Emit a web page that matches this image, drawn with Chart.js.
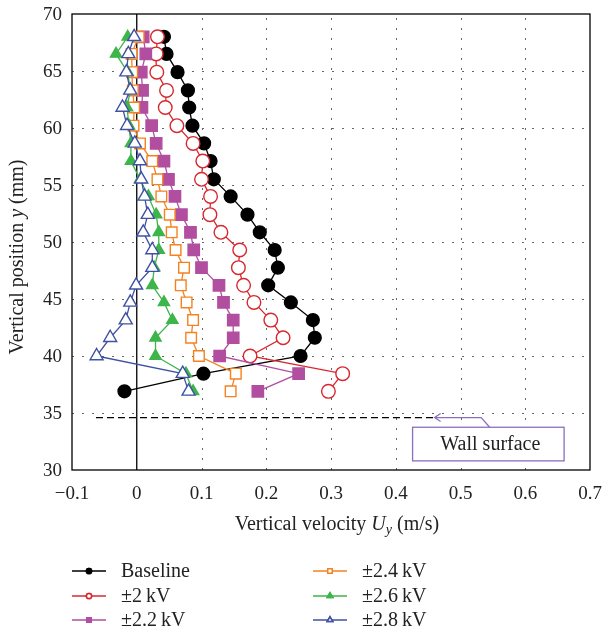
<!DOCTYPE html>
<html>
<head>
<meta charset="utf-8">
<script src="https://cdn.jsdelivr.net/npm/chart.js@4"></script>
<style>
  html, body { margin: 0; padding: 0; background: #fff; }
  #wrap { width: 603px; height: 634px; }
</style>
</head>
<body>
<div id="wrap"><canvas id="velocityChart"></canvas></div>
<script>
// vertical positions of the measurement points (mm), bottom to top
const yPos = [36.9, 38.45, 40.0, 41.6, 43.15, 44.7, 46.2, 47.75, 49.3, 50.85, 52.4,
  54.0, 55.5, 57.1, 58.65, 60.2, 61.8, 63.3, 64.9, 66.5, 68.0];

// vertical velocity Uy (m/s) at each position
const baseline = [-0.019, 0.103, 0.253, 0.275, 0.272, 0.238, 0.203, 0.218, 0.213, 0.190, 0.171,
  0.145, 0.119, 0.114, 0.104, 0.086, 0.081, 0.079, 0.063, 0.046, 0.042];
const kv20 = [0.296, 0.318, 0.175, 0.226, 0.207, 0.181, 0.165, 0.157, 0.159, 0.130, 0.113,
  0.114, 0.100, 0.102, 0.087, 0.062, 0.044, 0.046, 0.031, 0.030, 0.032];
const kv22 = [0.187, 0.250, 0.128, 0.149, 0.149, 0.134, 0.127, 0.100, 0.088, 0.083, 0.069,
  0.059, 0.049, 0.042, 0.030, 0.023, 0.008, 0.009, 0.007, 0.014, 0.010];
const kv24 = [0.145, 0.153, 0.096, 0.084, 0.087, 0.077, 0.068, 0.073, 0.060, 0.054, 0.051,
  0.038, 0.032, 0.024, 0.005, -0.005, -0.004, -0.006, -0.007, -0.008, 0.003];
const kv26 = [0.087, 0.076, 0.029, 0.029, 0.055, 0.042, 0.024, 0.027, 0.034, 0.034, 0.030,
  0.018, 0.005, -0.009, -0.009, -0.012, -0.015, -0.010, -0.014, -0.032, -0.014];
const kv28 = [0.080, 0.071, -0.062, -0.041, -0.017, -0.010, -0.001, 0.024, 0.024, 0.010, 0.017,
  0.012, 0.007, 0.005, -0.003, -0.015, -0.022, -0.010, -0.016, -0.013, -0.004];

// wall surface marker line
const wallY = 34.6;
const wallX = [-0.063, 0.46];

const xTicks = [-0.1, 0, 0.1, 0.2, 0.3, 0.4, 0.5, 0.6, 0.7];
const xTickLabels = ["\u22120.1", "0", "0.1", "0.2", "0.3", "0.4", "0.5", "0.6", "0.7"];
const yTicks = [30, 35, 40, 45, 50, 55, 60, 65, 70];

const FONT = "'Liberation Serif', 'Times New Roman', serif";

const toPoints = (vals) => vals.map((v, i) => ({ x: v, y: yPos[i] }));

const series = [
  { label: "Baseline", data: baseline, color: "#000000", style: "circle", fill: true, r: 6.4 },
  { label: "±2\u2009kV", data: kv20, color: "#d7282f", style: "circle", fill: false, r: 6.8 },
  { label: "±2.2\u2009kV", data: kv22, color: "#b24ea0", style: "rect", fill: true, r: 8 },
  { label: "±2.4\u2009kV", data: kv24, color: "#f58220", style: "rect", fill: false, r: 7.5 },
  { label: "±2.6\u2009kV", data: kv26, color: "#3db54a", style: "triangle", fill: true, r: 6.5 },
  { label: "±2.8\u2009kV", data: kv28, color: "#3f51a3", style: "triangle", fill: false, r: 7.5 },
];

const datasets = series.map((s, i) => ({
  label: s.label,
  data: toPoints(s.data),
  showLine: true,
  borderColor: s.color,
  borderWidth: 1.3,
  pointStyle: s.style,
  pointRadius: s.r,
  pointBorderWidth: 1.4,
  pointBorderColor: s.color,
  pointBackgroundColor: s.fill ? s.color : "#ffffff",
  order: series.length - i,
}));

datasets.push({
  label: "wall",
  data: wallX.map((x) => ({ x: x, y: wallY })),
  showLine: true,
  borderColor: "#000000",
  borderWidth: 1.3,
  borderDash: [7, 4],
  pointRadius: 0,
  order: 10,
});

// dotted grid, zero line and frame under the data
const gridPlugin = {
  id: "gridPlugin",
  beforeDatasetsDraw(chart) {
    const { ctx, chartArea: a, scales } = chart;
    ctx.save();
    ctx.strokeStyle = "#666";
    ctx.lineWidth = 1;
    ctx.setLineDash([2, 8]);
    xTicks.slice(2, -1).forEach((t) => {
      const px = Math.round(scales.x.getPixelForValue(t)) + 0.5;
      ctx.beginPath();
      ctx.moveTo(px, a.bottom);
      ctx.lineTo(px, a.top);
      ctx.stroke();
    });
    yTicks.slice(1, -1).forEach((t) => {
      const py = Math.round(scales.y.getPixelForValue(t)) + 0.5;
      ctx.beginPath();
      ctx.moveTo(a.left, py);
      ctx.lineTo(a.right, py);
      ctx.stroke();
    });
    ctx.setLineDash([]);
    ctx.strokeStyle = "#000";
    ctx.lineWidth = 1.3;
    const x0 = scales.x.getPixelForValue(0);
    ctx.beginPath();
    ctx.moveTo(x0, a.top);
    ctx.lineTo(x0, a.bottom);
    ctx.stroke();
    ctx.strokeRect(a.left, a.top, a.right - a.left, a.bottom - a.top);
    ctx.restore();
  },
};

// draws text made of runs with different font styles
function drawRuns(ctx, runs, cx, cy) {
  let total = 0;
  runs.forEach((r) => {
    ctx.font = r.font;
    r.w = ctx.measureText(r.text).width;
    total += r.w;
  });
  let x = cx - total / 2;
  ctx.textBaseline = "middle";
  ctx.textAlign = "left";
  runs.forEach((r) => {
    ctx.font = r.font;
    ctx.fillText(r.text, x, cy + (r.dy || 0));
    x += r.w;
  });
}

const labelPlugin = {
  id: "labelPlugin",
  afterDraw(chart) {
    const { ctx, chartArea: a, scales } = chart;
    const px = (v) => scales.x.getPixelForValue(v);
    const py = (v) => scales.y.getPixelForValue(v);
    ctx.save();
    ctx.fillStyle = "#222";

    // tick labels
    ctx.font = "19px " + FONT;
    ctx.textBaseline = "middle";
    ctx.textAlign = "center";
    xTicks.forEach((t, i) => ctx.fillText(xTickLabels[i], px(t), a.bottom + 24));
    ctx.textAlign = "right";
    yTicks.forEach((t) => ctx.fillText(String(t), a.left - 10, py(t) + 1));

    // axis titles
    const n = "20px " + FONT;
    const it = "italic 20px " + FONT;
    drawRuns(ctx, [
      { text: "Vertical velocity ", font: n },
      { text: "U", font: it },
      { text: "y", font: "italic 14px " + FONT, dy: 5 },
      { text: " (m/s)", font: n },
    ], (a.left + a.right) / 2 + 6, 525);

    ctx.save();
    ctx.translate(18, 257);
    ctx.rotate(-Math.PI / 2);
    drawRuns(ctx, [
      { text: "Vertical position ", font: n },
      { text: "y", font: it },
      { text: " (mm)", font: n },
    ], 0, 0);
    ctx.restore();

    // wall surface callout
    const purple = "#8a6fc0";
    ctx.strokeStyle = purple;
    ctx.lineWidth = 1.3;
    const tipX = px(0.46), tipY = py(wallY);
    const boxL = px(0.426), boxR = px(0.660), boxT = py(33.75), boxB = py(30.8);
    ctx.beginPath();
    ctx.moveTo(tipX + 6, tipY - 4);
    ctx.lineTo(tipX, tipY);
    ctx.lineTo(tipX + 6, tipY + 4);
    ctx.moveTo(tipX, tipY);
    ctx.lineTo(px(0.532), tipY);
    ctx.lineTo(px(0.545), boxT);
    ctx.stroke();
    ctx.fillStyle = "#fff";
    ctx.fillRect(boxL, boxT, boxR - boxL, boxB - boxT);
    ctx.strokeRect(boxL, boxT, boxR - boxL, boxB - boxT);
    ctx.fillStyle = "#222";
    drawRuns(ctx, [{ text: "Wall surface", font: n }], (boxL + boxR) / 2 + 2, (boxT + boxB) / 2 + 1);

    // legend in two columns
    const cols = [72, 313];
    const rows = [571, 596, 620];
    series.forEach((s, i) => {
      const lx = cols[Math.floor(i / 3)];
      const ly = rows[i % 3];
      ctx.strokeStyle = s.color;
      ctx.lineWidth = 1.5;
      ctx.beginPath();
      ctx.moveTo(lx, ly);
      ctx.lineTo(lx + 34, ly);
      ctx.stroke();
      Chart.helpers.drawPoint(ctx, {
        pointStyle: s.style,
        radius: s.style === "circle" ? 2.6 : 3.2,
        borderWidth: 1.2,
      }, lx + 17, ly);
      ctx.fillStyle = s.fill ? s.color : "#fff";
      ctx.fill();
      ctx.stroke();
      ctx.fillStyle = "#222";
      ctx.font = n;
      ctx.textAlign = "left";
      ctx.textBaseline = "middle";
      ctx.fillText(s.label, lx + 49, ly + 1);
    });
    ctx.restore();
  },
};

const ctx = document.getElementById("velocityChart").getContext("2d");

new Chart(ctx, {
  type: "scatter",
  data: { datasets: datasets },
  options: {
    responsive: true,
    maintainAspectRatio: false,
    animation: false,
    layout: { padding: { top: 14, right: 13, left: 0, bottom: 0 } },
    plugins: {
      legend: { display: false },
      tooltip: { enabled: false },
    },
    scales: {
      x: {
        type: "linear",
        min: -0.1,
        max: 0.7,
        afterFit: (scale) => { scale.height = 164; },
        grid: { display: false, drawTicks: false },
        border: { display: false },
        ticks: { display: false },
      },
      y: {
        type: "linear",
        min: 30,
        max: 70,
        afterFit: (scale) => { scale.width = 72; },
        grid: { display: false, drawTicks: false },
        border: { display: false },
        ticks: { display: false },
      },
    },
  },
  plugins: [gridPlugin, labelPlugin],
});
</script>
</body>
</html>
